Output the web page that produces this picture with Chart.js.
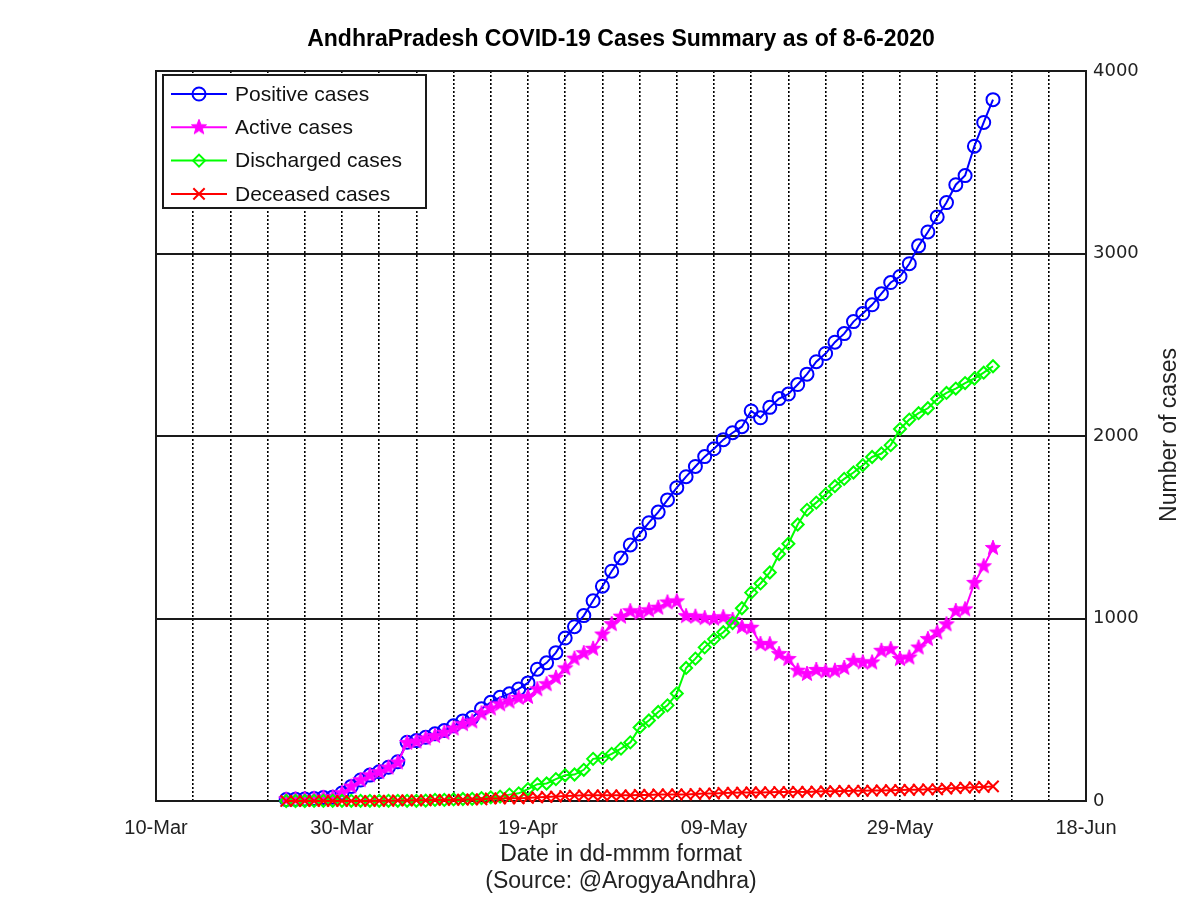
<!DOCTYPE html>
<html>
<head>
<meta charset="utf-8">
<title>AndhraPradesh COVID-19 Cases Summary</title>
<script src="https://cdn.jsdelivr.net/npm/chart.js@4"></script>
<style>
  html, body { margin: 0; padding: 0; background: #fff; }
  #chart { display: block; }
</style>
</head>
<body>
<canvas id="chart" width="1200" height="898"></canvas>
<script>
document.addEventListener('DOMContentLoaded', function() {

// dates of the bulletins (one point per day)
const dates = [
  '2020-03-24','2020-03-25','2020-03-26','2020-03-27','2020-03-28','2020-03-29','2020-03-30','2020-03-31',
  '2020-04-01','2020-04-02','2020-04-03','2020-04-04','2020-04-05','2020-04-06','2020-04-07','2020-04-08',
  '2020-04-09','2020-04-10','2020-04-11','2020-04-12','2020-04-13','2020-04-14','2020-04-15','2020-04-16',
  '2020-04-17','2020-04-18','2020-04-19','2020-04-20','2020-04-21','2020-04-22','2020-04-23','2020-04-24',
  '2020-04-25','2020-04-26','2020-04-27','2020-04-28','2020-04-29','2020-04-30','2020-05-01','2020-05-02',
  '2020-05-03','2020-05-04','2020-05-05','2020-05-06','2020-05-07','2020-05-08','2020-05-09','2020-05-10',
  '2020-05-11','2020-05-12','2020-05-13','2020-05-14','2020-05-15','2020-05-16','2020-05-17','2020-05-18',
  '2020-05-19','2020-05-20','2020-05-21','2020-05-22','2020-05-23','2020-05-24','2020-05-25','2020-05-26',
  '2020-05-27','2020-05-28','2020-05-29','2020-05-30','2020-05-31','2020-06-01','2020-06-02','2020-06-03',
  '2020-06-04','2020-06-05','2020-06-06','2020-06-07','2020-06-08'
];

const positiveCases = [
  8, 10, 11, 14, 19, 21, 44, 80,
  115, 142, 160, 185, 215, 322, 331, 349,
  368, 386, 412, 439, 457, 505, 541, 568,
  587, 614, 647, 722, 757, 813, 893, 955,
  1016, 1097, 1177, 1259, 1332, 1403, 1463, 1525,
  1583, 1650, 1717, 1777, 1833, 1887, 1930, 1980,
  2018, 2051, 2137, 2100, 2157, 2205, 2230, 2282,
  2339, 2407, 2452, 2514, 2561, 2627, 2671, 2719,
  2780, 2841, 2874, 2944, 3042, 3118, 3200, 3279,
  3377, 3427, 3588, 3718, 3843
];

const activeCases = [
  8, 10, 11, 13, 18, 20, 43, 79,
  114, 141, 158, 183, 211, 318, 326, 343,
  356, 374, 397, 421, 436, 480, 507, 530,
  545, 565, 570, 612, 640, 675, 727, 780,
  810, 834, 912, 969, 1010, 1040, 1030, 1045,
  1059, 1088, 1094, 1013, 1010, 1002, 999, 1007,
  992, 954, 949, 860, 859, 805, 778, 714,
  696, 718, 710, 714, 729, 768, 759, 759,
  823, 832, 778, 786, 841, 887, 923, 968,
  1041, 1050, 1195, 1286, 1386
];

const dischargedCases = [
  0, 0, 0, 1, 1, 1, 1, 1,
  1, 1, 1, 1, 1, 1, 1, 2,
  6, 6, 9, 11, 12, 16, 20, 24,
  35, 42, 65, 92, 96, 120, 141, 145,
  171, 231, 235, 258, 287, 321, 403, 441,
  488, 524, 589, 729, 780, 842, 887, 925,
  975, 1056, 1142, 1192, 1252, 1353, 1410, 1515,
  1595, 1635, 1680, 1725, 1765, 1800, 1840, 1885,
  1904, 1950, 2038, 2090, 2125, 2152, 2203, 2236,
  2260, 2290, 2315, 2347, 2382
];

const deceasedCases = [
  0, 0, 0, 0, 0, 0, 0, 0,
  0, 0, 1, 1, 3, 3, 4, 4,
  6, 6, 6, 7, 9, 9, 14, 14,
  15, 15, 17, 20, 22, 24, 27, 29,
  31, 31, 31, 31, 31, 31, 33, 33,
  36, 36, 36, 36, 38, 41, 41, 44,
  45, 46, 47, 47, 48, 49, 49, 50,
  50, 52, 53, 54, 55, 56, 56, 57,
  58, 59, 60, 61, 62, 64, 64, 68,
  71, 73, 75, 77, 80
];

// x axis: days counted from 10-Mar, a label every 20 days
const startDate = '2020-03-10';
const tickLabels = ['10-Mar', '30-Mar', '19-Apr', '09-May', '29-May', '18-Jun'];
const yTicks = [0, 1000, 2000, 3000, 4000];

const dayMs = 24 * 60 * 60 * 1000;
const dayOf = d => Math.round((Date.parse(d) - Date.parse(startDate)) / dayMs);
const toPoints = values => dates.map((d, i) => ({ x: dayOf(d), y: values[i] }));

// filled five pointed star used as marker for the active cases
function makeStar(color, r) {
  const c = document.createElement('canvas');
  c.width = c.height = Math.ceil(2 * r + 2);
  const g = c.getContext('2d');
  g.fillStyle = color;
  g.strokeStyle = color;
  g.lineWidth = 1;
  g.beginPath();
  for (let k = 0; k < 10; k++) {
    const rr = k % 2 ? r * 0.42 : r;
    const a = -Math.PI / 2 + k * Math.PI / 5;
    g.lineTo(c.width / 2 + rr * Math.cos(a), c.height / 2 + rr * Math.sin(a));
  }
  g.closePath();
  g.fill();
  g.stroke();
  return c;
}
const starMarker = makeStar('#ff00ff', 8);

const plotFont = 'Liberation Sans, Arial, Helvetica, sans-serif';

// frame round the plot area
const frameBox = {
  id: 'frameBox',
  beforeDatasetsDraw(chart) {
    const a = chart.chartArea, ctx = chart.ctx;
    ctx.save();
    ctx.strokeStyle = '#1a1a1a';
    ctx.lineWidth = 2;
    ctx.strokeRect(a.left, a.top, a.right - a.left, a.bottom - a.top);
    ctx.restore();
  }
};

// boxed legend in the top left corner with line + marker samples
const boxLegend = {
  id: 'boxLegend',
  afterDraw(chart) {
    const ctx = chart.ctx;
    const x0 = 163, y0 = 75, w = 263, h = 133;
    ctx.save();
    ctx.fillStyle = '#fff';
    ctx.fillRect(x0, y0, w, h);
    ctx.strokeStyle = '#1a1a1a';
    ctx.lineWidth = 2;
    ctx.strokeRect(x0, y0, w, h);
    chart.data.datasets.forEach((ds, i) => {
      const y = 94 + i * 33.3;
      ctx.strokeStyle = ds.borderColor;
      ctx.fillStyle = 'rgba(0,0,0,0)';
      ctx.lineWidth = 2;
      ctx.beginPath();
      ctx.moveTo(171, y);
      ctx.lineTo(227, y);
      ctx.stroke();
      Chart.helpers.drawPoint(ctx, {
        pointStyle: ds.pointStyle,
        radius: ds.pointRadius,
        rotation: 0,
        borderWidth: 2
      }, 199, y);
      ctx.fillStyle = '#111';
      ctx.font = '21px ' + plotFont;
      ctx.textAlign = 'left';
      ctx.textBaseline = 'middle';
      ctx.fillText(ds.label, 235, y + 1);
    });
    ctx.restore();
  }
};

// y title on the right, reading bottom to top
const rightTitle = {
  id: 'rightTitle',
  afterDraw(chart) {
    const ctx = chart.ctx;
    ctx.save();
    ctx.translate(1170, 435);
    ctx.rotate(-Math.PI / 2);
    ctx.fillStyle = '#222';
    ctx.font = '23px ' + plotFont;
    ctx.textAlign = 'center';
    ctx.textBaseline = 'middle';
    ctx.fillText('Number of cases', 0, 0);
    ctx.restore();
  }
};

const ctx = document.getElementById('chart').getContext('2d');
new Chart(ctx, {
  type: 'line',
  data: {
    datasets: [{
      label: 'Positive cases',
      data: toPoints(positiveCases),
      borderColor: '#0000ff',
      backgroundColor: 'rgba(0,0,0,0)',
      borderWidth: 2,
      pointStyle: 'circle',
      pointRadius: 6.5,
      pointBorderWidth: 2,
      order: 4
    }, {
      label: 'Active cases',
      data: toPoints(activeCases),
      borderColor: '#ff00ff',
      backgroundColor: 'rgba(0,0,0,0)',
      borderWidth: 2,
      pointStyle: starMarker,
      pointRadius: 8,
      order: 3
    }, {
      label: 'Discharged cases',
      data: toPoints(dischargedCases),
      borderColor: '#00ff00',
      backgroundColor: 'rgba(0,0,0,0)',
      borderWidth: 2,
      pointStyle: 'rectRot',
      pointRadius: 6,
      pointBorderWidth: 2,
      order: 2
    }, {
      label: 'Deceased cases',
      data: toPoints(deceasedCases),
      borderColor: '#ff0000',
      backgroundColor: 'rgba(0,0,0,0)',
      borderWidth: 2,
      pointStyle: 'crossRot',
      pointRadius: 8,
      pointBorderWidth: 2,
      order: 1
    }]
  },
  options: {
    responsive: false,
    animation: false,
    devicePixelRatio: 1,
    clip: false,
    elements: { line: { tension: 0 } },
    layout: { padding: { left: 156, right: 0, top: 0, bottom: 0 } },
    plugins: {
      legend: { display: false },
      tooltip: { enabled: false },
      title: {
        display: true,
        fullSize: false,
        text: 'AndhraPradesh COVID-19 Cases Summary as of 8-6-2020',
        color: '#000',
        font: { family: plotFont, size: 23, weight: 'bold' },
        padding: { top: 26, bottom: 17.4 }
      }
    },
    scales: {
      x: {
        type: 'linear',
        min: 0,
        max: 100,
        afterFit: s => { s.height = 97; },
        grid: { color: '#000', lineWidth: 1.6, drawTicks: false },
        border: { display: false, dash: [2, 2] },
        ticks: {
          stepSize: 4,
          autoSkip: false,
          maxRotation: 0,
          padding: 15,
          color: '#222',
          font: { family: plotFont, size: 20 },
          callback: v => (v % 20 === 0 ? tickLabels[v / 20] : '')
        },
        title: {
          display: true,
          text: ['Date in dd-mmm format', '(Source: @ArogyaAndhra)'],
          color: '#222',
          font: { family: plotFont, size: 23, lineHeight: 1.174 },
          padding: { top: 0, bottom: 2.5 }
        }
      },
      y: {
        position: 'right',
        min: 0,
        max: 4000,
        afterFit: s => { s.width = 114; },
        grid: { color: '#1a1a1a', lineWidth: 2, drawTicks: false },
        border: { display: false },
        ticks: {
          stepSize: 1000,
          padding: 7,
          color: '#222',
          font: { family: 'DejaVu Sans, sans-serif', size: 18 },
          callback: v => (yTicks.includes(v) ? String(v) : '')
        }
      }
    }
  },
  plugins: [frameBox, boxLegend, rightTitle]
});

});
</script>
</body>
</html>
